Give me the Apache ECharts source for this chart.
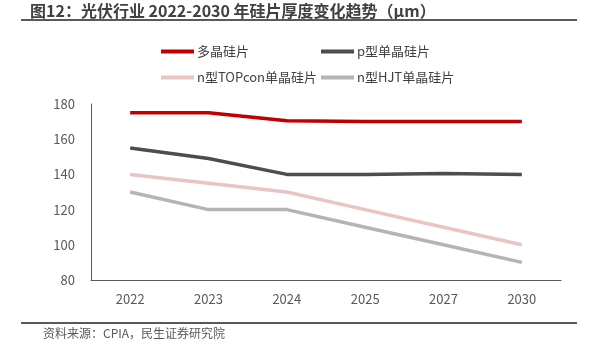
<!DOCTYPE html>
<html>
<head>
<meta charset="utf-8">
<script src="https://cdn.jsdelivr.net/npm/echarts@6/dist/echarts.min.js"></script>
<style>
  html, body { margin: 0; padding: 0; background: #ffffff; }
  #chart { width: 592px; height: 351px; }
</style>
</head>
<body>
<div id="chart"></div>
<script>
// years on the x axis
const years = ["2022", "2023", "2024", "2025", "2027", "2030"];
// thickness, um
const multiSi = [175, 175, 170.5, 170, 170, 170];
const pMono = [155, 149, 140, 140, 140.5, 140];
const nTopcon = [140, 135, 130, 120, 110, 100];
const nHjt = [130, 120, 120, 110, 100, 90];

const names = ["多晶硅片", "p型单晶硅片", "n型TOPcon单晶硅片", "n型HJT单晶硅片"];
const colors = ["#C00000", "#4D4D4D", "#EBC3C3", "#B4B4B4"];

const font = '"Noto Sans CJK SC", "Microsoft YaHei", sans-serif';

let chart = echarts.init(document.getElementById("chart"));

function makeLine(name, data, color) {
  return {
    name: name,
    type: "line",
    data: data,
    symbol: "none",
    lineStyle: { width: 3.5, color: color },
    itemStyle: { color: color },
  };
}

function makeLegend(left, data) {
  return {
    left: left,
    top: 40,
    orient: "vertical",
    itemGap: 13,
    itemWidth: 33,
    itemHeight: 4,
    icon: "rect",
    data: data,
    textStyle: { fontFamily: font, fontSize: 13, color: "#404040", padding: [0, 0, 0, -2] },
  };
}

let option = {
  animation: false,
  textStyle: { fontFamily: font },
  graphic: [
    {
      type: "text",
      left: 30,
      top: 3,
      style: {
        text: "图12：光伏行业 2022-2030 年硅片厚度变化趋势（μm）",
        font: "bold 16px " + font,
        fill: "#404040",
      },
    },
    {
      type: "line",
      shape: { x1: 21, y1: 20, x2: 577, y2: 20 },
      style: { stroke: "#595959", lineWidth: 2 },
    },
    {
      type: "line",
      shape: { x1: 21, y1: 323, x2: 577, y2: 323 },
      style: { stroke: "#595959", lineWidth: 2 },
    },
    {
      type: "text",
      left: 43,
      top: 327,
      style: {
        text: "资料来源：CPIA，民生证券研究院",
        font: "12px " + font,
        fill: "#595959",
      },
    },
  ],
  legend: [
    makeLegend(156, [names[0], names[2]]),
    makeLegend(316, [names[1], names[3]]),
  ],
  grid: { left: 91, right: 31, top: 104, bottom: 71 },
  xAxis: {
    type: "category",
    data: years,
    boundaryGap: true,
    axisLine: { lineStyle: { color: "#595959", width: 1 } },
    axisTick: { show: false },
    axisLabel: { color: "#595959", fontSize: 13, margin: 13, fontFamily: font },
  },
  yAxis: {
    type: "value",
    min: 80,
    max: 180,
    interval: 20,
    axisLine: { show: true, lineStyle: { color: "#595959", width: 1 } },
    axisTick: { show: false },
    splitLine: { show: false },
    axisLabel: { color: "#595959", fontSize: 13, margin: 16, fontFamily: font },
  },
  series: [
    makeLine(names[0], multiSi, colors[0]),
    makeLine(names[1], pMono, colors[1]),
    makeLine(names[2], nTopcon, colors[2]),
    makeLine(names[3], nHjt, colors[3]),
  ],
};

chart.setOption(option);
</script>
</body>
</html>
